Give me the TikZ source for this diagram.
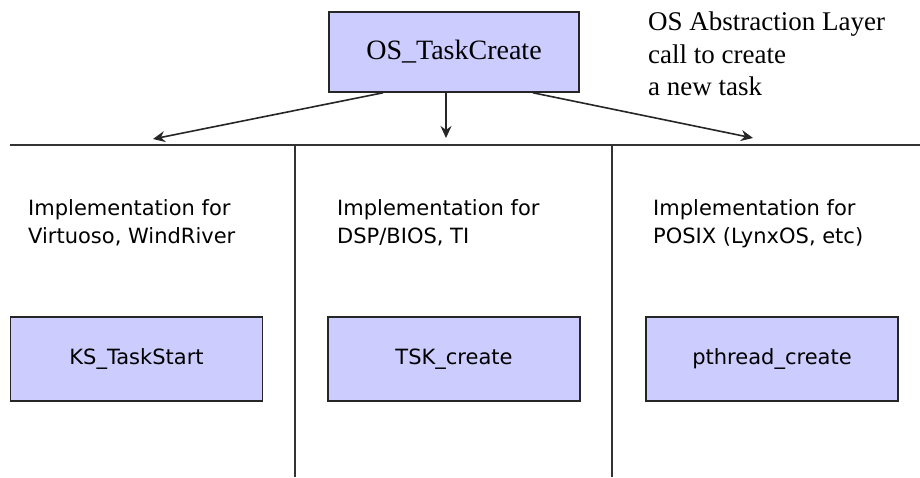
\documentclass[tikz,border=0pt]{standalone}
\usepackage{fontspec}
\setmainfont{Liberation Serif}
\newfontfamily\verd{DejaVu Sans}
\usetikzlibrary{arrows.meta}
\definecolor{boxfill}{RGB}{204,204,255}
\begin{document}
\begin{tikzpicture}[x=1pt, y=-1pt,
   rule/.style={draw=black!80, line width=1.7pt},
   call/.style={draw=black!85, line width=1.6pt, -{Stealth[length=12pt,width=11pt]}},
   callbox/.style={draw=black!85, line width=1.6pt, fill=boxfill, minimum width=250pt, minimum height=80pt, font=\fontsize{28}{32}\selectfont},
   implbox/.style={draw=black!85, line width=1.6pt, fill=boxfill, minimum width=252pt, minimum height=84pt, font=\verd\fontsize{21}{28}\selectfont},
   impltext/.style={anchor=north west, inner sep=0pt, align=left, font=\verd\fontsize{21}{28}\selectfont},
   note/.style={anchor=north west, inner sep=0pt, align=left, font=\fontsize{27}{32.5}\selectfont}]
   \def\xl{295};
   \def\xr{612};
   \def\yh{145};
   \useasboundingbox (0,0) rectangle (920,477);
   \draw[rule] (10,\yh) -- (920,\yh);   % layer line
   \draw[rule] (\xl,\yh) -- (\xl,477);   % left divider
   \draw[rule] (\xr,\yh) -- (\xr,477);   % right divider
   \node[callbox] (oscreate) at (454,52) {OS\_TaskCreate};
   \node[note] (osnote) at (648,12) {OS Abstraction Layer\\call to create\\a new task};
   \coordinate (tipks) at (153,139);
   \coordinate (tiptsk) at (446,138);
   \coordinate (tippt) at (753,138);
   \draw[call] ([xshift=-71pt]oscreate.south) -- (tipks);
   \draw[call] ([xshift=-8pt]oscreate.south) -- (tiptsk);
   \draw[call] ([xshift=79pt]oscreate.south) -- (tippt);
   \node[impltext] (implks) at (28,199) {Implementation for\\Virtuoso, WindRiver};
   \node[impltext] (impltsk) at (337,199) {Implementation for\\DSP/BIOS, TI};
   \node[impltext] (implpt) at (653,199) {Implementation for\\POSIX (LynxOS, etc)};
   \node[implbox] (ks) at (136.5,359) {\raisebox{-4pt}{KS\_TaskStart}};
   \node[implbox] (tsk) at (454,359) {TSK\_create};
   \node[implbox] (pt) at (772,359) {pthread\_create};
\end{tikzpicture}
\end{document}
